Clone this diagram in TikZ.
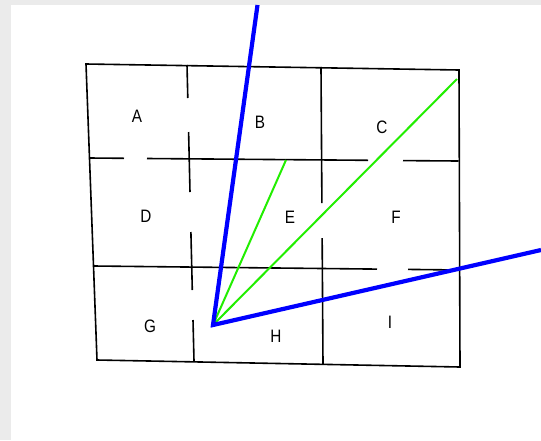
\documentclass[tikz,border=0pt]{standalone}
\usepackage{fontspec}
\setmainfont{Liberation Sans}
\definecolor{bgray}{HTML}{EBEBEB}
\definecolor{ray}{HTML}{0000FF}
\definecolor{sight}{HTML}{22EE00}
\tikzset{
  wall/.style={line width=1.6pt, black, line cap=butt},
  blueray/.style={line width=4.2pt, ray},
  greenray/.style={line width=2pt, sight},
  lbl/.style={font=\fontsize{18}{18}\selectfont, xscale=0.85, inner sep=0pt}
}
\begin{document}
\begin{tikzpicture}[x=1pt,y=-1pt]
\useasboundingbox (0,0) rectangle (541,440);
\fill[bgray] (0,0) rectangle (541,440);
\fill[white] (11,5) rectangle (541,440);
% frame corners
\coordinate (tl) at (86,64);
\coordinate (tr) at (459,70);
\coordinate (br) at (460,367);
\coordinate (bl) at (97,360);
\draw[wall] (tl) -- (tr) -- (br) -- (bl) -- cycle;
% vertical wall 1
\coordinate (v1a) at (187,65);
\coordinate (v1b) at (187.8,98);
\coordinate (v1c) at (188.6,132);
\coordinate (v1d) at (190.0,192);
\coordinate (v1e) at (190.9,232);
\coordinate (v1f) at (192.3,290);
\coordinate (v1g) at (193.0,320);
\coordinate (v1h) at (194,361);
\draw[wall] (v1a) -- (v1b);
\draw[wall] (v1c) -- (v1d);
\draw[wall] (v1e) -- (v1f);
\draw[wall] (v1g) -- (v1h);
% vertical wall 2
\coordinate (v2a) at (321,67);
\coordinate (v2b) at (321.9,203);
\coordinate (v2c) at (322.15,238);
\coordinate (v2d) at (323,364);
\draw[wall] (v2a) -- (v2b);
\draw[wall] (v2c) -- (v2d);
% horizontal wall 1
\coordinate (h1a) at (89.5,158);
\coordinate (h1b) at (124,158.3);
\coordinate (h1c) at (147,158.5);
\coordinate (h1d) at (368,160.3);
\coordinate (h1e) at (403,160.6);
\coordinate (h1f) at (458.5,161);
\draw[wall] (h1a) -- (h1b);
\draw[wall] (h1c) -- (h1d);
\draw[wall] (h1e) -- (h1f);
% horizontal wall 2
\coordinate (h2a) at (94,266);
\coordinate (h2b) at (377,269.1);
\coordinate (h2c) at (408,269.4);
\coordinate (h2d) at (459.5,270);
\draw[wall] (h2a) -- (h2b);
\draw[wall] (h2c) -- (h2d);
% labels
\node[lbl] (A) at (137,116) {A};
\node[lbl] (B) at (260,122) {B};
\node[lbl] (C) at (382,127) {C};
\node[lbl] (D) at (146,216) {D};
\node[lbl] (E) at (290,217) {E};
\node[lbl] (F) at (396,217) {F};
\node[lbl] (G) at (150,326) {G};
\node[lbl] (H) at (276,336) {H};
\node[lbl] (I) at (390,322) {I};
% rays
\coordinate (o) at (213,325);
\coordinate (g1) at (286,160);
\coordinate (g2) at (457,79);
\coordinate (b1) at (257.5,5);
\coordinate (b2) at (541,250);
\draw[greenray] (o) -- (g1);
\draw[greenray] (o) -- (g2);
\draw[blueray] (b1) -- (o) -- (b2);
\end{tikzpicture}
\end{document}
